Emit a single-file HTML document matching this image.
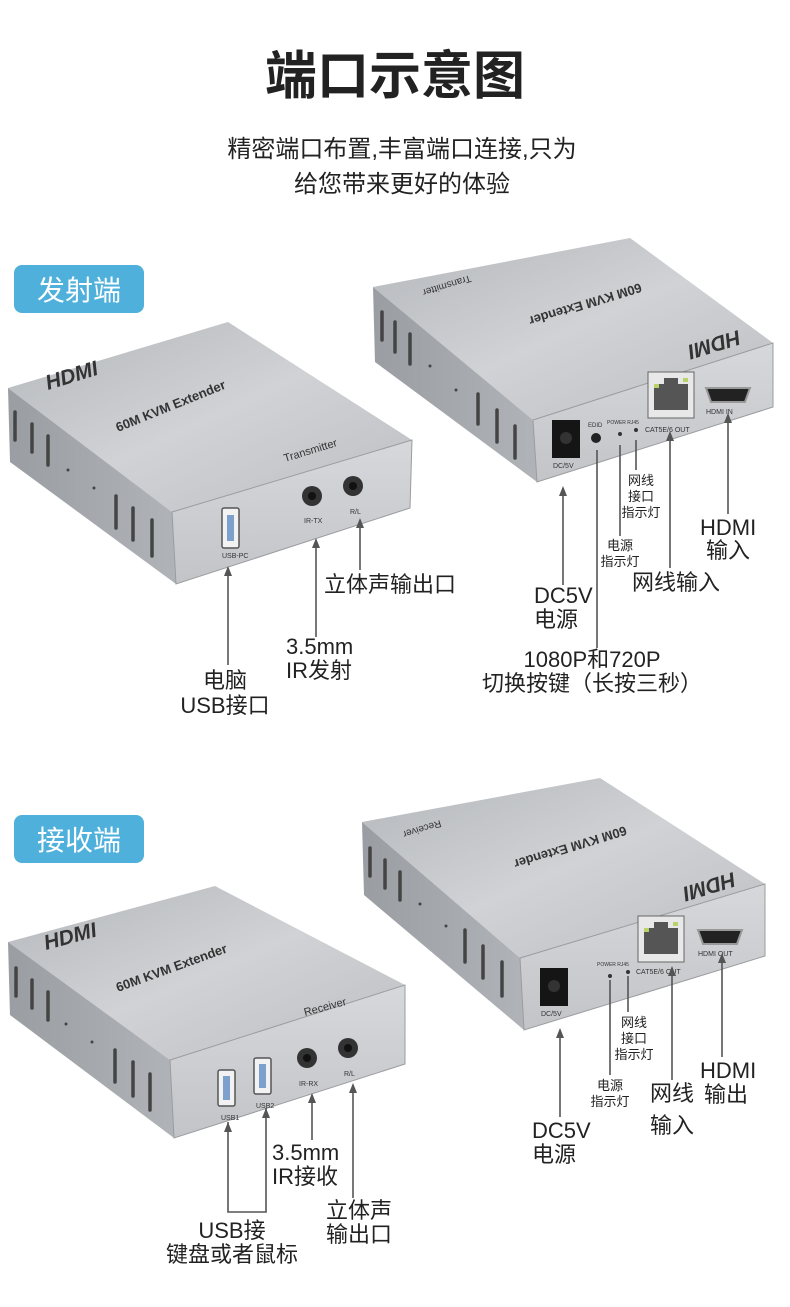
<!DOCTYPE html>
<html><head><meta charset="utf-8"><style>
html,body{margin:0;padding:0;background:#fff;}
svg{display:block;}
.t{font-family:"Liberation Sans","Noto Sans CJK SC",sans-serif;fill:#222;}
.ln{stroke:#555;stroke-width:1.6;fill:none;}
.ar{fill:#555;}
.sl{stroke:#444;stroke-width:3.5;stroke-linecap:round;}
.dt{font-family:"Liberation Sans",sans-serif;fill:#333;}
</style></head><body>
<svg width="790" height="1307" viewBox="0 0 790 1307" xmlns="http://www.w3.org/2000/svg">
<defs>
<linearGradient id="top" x1="0" y1="0" x2="1" y2="1"><stop offset="0" stop-color="#b4b7bb"/><stop offset="0.5" stop-color="#d0d2d5"/><stop offset="1" stop-color="#bcbec2"/></linearGradient>
<linearGradient id="front" x1="0" y1="0" x2="0" y2="1"><stop offset="0" stop-color="#d6d8db"/><stop offset="1" stop-color="#c2c4c8"/></linearGradient>
<linearGradient id="side" x1="0" y1="0" x2="1" y2="0"><stop offset="0" stop-color="#9a9da2"/><stop offset="1" stop-color="#b0b3b7"/></linearGradient>
</defs>
<rect width="790" height="1307" fill="#fff"/>

<text class="t" x="395" y="94" font-size="52" font-weight="700" text-anchor="middle">端口示意图</text>
<text class="t" x="402" y="157" font-size="24" text-anchor="middle">精密端口布置,丰富端口连接,只为</text>
<text class="t" x="402" y="192" font-size="24" text-anchor="middle">给您带来更好的体验</text>

<rect x="14" y="265" width="130" height="48" rx="8" fill="#4fb0dc"/>
<text x="79" y="300" font-size="28" fill="#fff" text-anchor="middle" font-family="Liberation Sans,Noto Sans CJK SC,sans-serif">发射端</text>
<rect x="14" y="815" width="130" height="48" rx="8" fill="#4fb0dc"/>
<text x="79" y="850" font-size="28" fill="#fff" text-anchor="middle" font-family="Liberation Sans,Noto Sans CJK SC,sans-serif">接收端</text>

<!-- Device 1 -->
<g>
<polygon points="8,388 228,322 412,440 172,512" fill="url(#top)"/>
<polygon points="8,388 172,512 176,584 10,462" fill="url(#side)"/>
<polygon points="172,512 412,440 410,508 176,584" fill="url(#front)" stroke="#9a9ca0" stroke-width="1"/>
<line class="sl" x1="15" y1="412" x2="15" y2="440"/><line class="sl" x1="32" y1="424" x2="32" y2="452"/><line class="sl" x1="48" y1="436" x2="48" y2="465"/>
<line class="sl" x1="116" y1="496" x2="116" y2="528"/><line class="sl" x1="133" y1="508" x2="133" y2="540"/><line class="sl" x1="152" y1="520" x2="152" y2="556"/>
<circle cx="68" cy="470" r="1.5" fill="#444"/><circle cx="94" cy="488" r="1.5" fill="#444"/>
<text class="dt" font-size="21" font-weight="700" font-style="italic" transform="translate(48,390) rotate(-17)" fill="#222">HDMI</text>
<text class="dt" font-size="13" font-weight="700" transform="translate(118,432) rotate(-22)">60M KVM Extender</text>
<text class="dt" font-size="11" transform="translate(285,462) rotate(-17)">Transmitter</text>
<rect x="222" y="508" width="17" height="40" rx="2" fill="#f2f2f2" stroke="#555" stroke-width="1.5"/>
<rect x="227" y="515" width="7" height="26" fill="#7da0cc"/>
<text class="dt" font-size="7" x="222" y="558">USB-PC</text>
<circle cx="312" cy="496" r="10" fill="#333"/><circle cx="312" cy="496" r="4" fill="#111"/>
<circle cx="353" cy="486" r="10" fill="#333"/><circle cx="353" cy="486" r="4" fill="#111"/>
<text class="dt" font-size="7" x="304" y="523">IR-TX</text><text class="dt" font-size="7" x="350" y="514">R/L</text>
</g>

<!-- Device 2 -->
<g>
<polygon points="373,287 630,238 773,343 533,420" fill="url(#top)"/>
<polygon points="373,287 533,420 537,482 375,362" fill="url(#side)"/>
<polygon points="533,420 773,343 773,407 537,482" fill="url(#front)" stroke="#9a9ca0" stroke-width="1"/>
<line class="sl" x1="382" y1="312" x2="382" y2="340"/><line class="sl" x1="395" y1="322" x2="395" y2="352"/><line class="sl" x1="410" y1="334" x2="410" y2="364"/>
<line class="sl" x1="478" y1="394" x2="478" y2="424"/><line class="sl" x1="497" y1="410" x2="497" y2="442"/><line class="sl" x1="515" y1="426" x2="515" y2="458"/>
<circle cx="430" cy="366" r="1.5" fill="#444"/><circle cx="456" cy="390" r="1.5" fill="#444"/>
<text class="dt" font-size="13" font-weight="700" transform="translate(640,283) rotate(163)">60M KVM Extender</text>
<text class="dt" font-size="10" transform="translate(470,275) rotate(163)">Transmitter</text>
<text class="dt" font-size="21" font-weight="700" font-style="italic" transform="translate(738,330) rotate(163)" fill="#222">HDMI</text>
<rect x="552" y="420" width="28" height="38" fill="#151515"/><circle cx="566" cy="438" r="6" fill="#333"/>
<text class="dt" font-size="7" x="553" y="468">DC/5V</text>
<circle cx="596" cy="438" r="5" fill="#222"/><text class="dt" font-size="6" x="588" y="427">EDID</text>
<circle cx="620" cy="434" r="2" fill="#333"/><circle cx="636" cy="430" r="2" fill="#333"/>
<text class="dt" font-size="5" x="607" y="424">POWER RJ45</text>
<rect x="648" y="372" width="46" height="46" fill="#e8e8e8" stroke="#666"/>
<rect x="654" y="384" width="34" height="26" fill="#555"/><rect x="664" y="378" width="14" height="8" fill="#555"/>
<rect x="654" y="384" width="5" height="4" fill="#b9d36a"/><rect x="683" y="378" width="5" height="4" fill="#b9d36a"/>
<text class="dt" font-size="7" x="645" y="432">CAT5E/6 OUT</text>
<path d="M706,388 h44 l-5,14 h-34 z" fill="#222" stroke="#999" stroke-width="2"/>
<text class="dt" font-size="7" x="706" y="414">HDMI IN</text>
</g>

<!-- Device 3 -->
<g>
<polygon points="8,942 215,886 405,985 170,1060" fill="url(#top)"/>
<polygon points="8,942 170,1060 174,1138 10,1015" fill="url(#side)"/>
<polygon points="170,1060 405,985 405,1064 174,1138" fill="url(#front)" stroke="#9a9ca0" stroke-width="1"/>
<line class="sl" x1="16" y1="968" x2="16" y2="996"/><line class="sl" x1="32" y1="980" x2="32" y2="1008"/><line class="sl" x1="48" y1="992" x2="48" y2="1020"/>
<line class="sl" x1="115" y1="1050" x2="115" y2="1082"/><line class="sl" x1="133" y1="1062" x2="133" y2="1096"/><line class="sl" x1="150" y1="1074" x2="150" y2="1110"/>
<circle cx="66" cy="1024" r="1.5" fill="#444"/><circle cx="92" cy="1042" r="1.5" fill="#444"/>
<text class="dt" font-size="21" font-weight="700" font-style="italic" transform="translate(46,950) rotate(-15)" fill="#222">HDMI</text>
<text class="dt" font-size="13" font-weight="700" transform="translate(118,992) rotate(-20)">60M KVM Extender</text>
<text class="dt" font-size="11" transform="translate(305,1016) rotate(-15)">Receiver</text>
<rect x="218" y="1070" width="17" height="36" rx="2" fill="#f2f2f2" stroke="#555" stroke-width="1.5"/><rect x="223" y="1076" width="7" height="24" fill="#7da0cc"/>
<rect x="254" y="1058" width="17" height="36" rx="2" fill="#f2f2f2" stroke="#555" stroke-width="1.5"/><rect x="259" y="1064" width="7" height="24" fill="#7da0cc"/>
<text class="dt" font-size="7" x="221" y="1120">USB1</text><text class="dt" font-size="7" x="256" y="1108">USB2</text>
<circle cx="307" cy="1058" r="10" fill="#333"/><circle cx="307" cy="1058" r="4" fill="#111"/>
<circle cx="348" cy="1048" r="10" fill="#333"/><circle cx="348" cy="1048" r="4" fill="#111"/>
<text class="dt" font-size="7" x="299" y="1086">IR-RX</text><text class="dt" font-size="7" x="344" y="1076">R/L</text>
</g>

<!-- Device 4 -->
<g>
<polygon points="362,822 600,778 765,884 520,958" fill="url(#top)"/>
<polygon points="362,822 520,958 524,1030 364,895" fill="url(#side)"/>
<polygon points="520,958 765,884 765,956 524,1030" fill="url(#front)" stroke="#9a9ca0" stroke-width="1"/>
<line class="sl" x1="370" y1="848" x2="370" y2="876"/><line class="sl" x1="385" y1="860" x2="385" y2="888"/><line class="sl" x1="400" y1="872" x2="400" y2="900"/>
<line class="sl" x1="465" y1="930" x2="465" y2="962"/><line class="sl" x1="483" y1="946" x2="483" y2="978"/><line class="sl" x1="502" y1="962" x2="502" y2="996"/>
<circle cx="420" cy="904" r="1.5" fill="#444"/><circle cx="446" cy="926" r="1.5" fill="#444"/>
<text class="dt" font-size="13" font-weight="700" transform="translate(625,826) rotate(163)">60M KVM Extender</text>
<text class="dt" font-size="10" transform="translate(440,820) rotate(163)">Receiver</text>
<text class="dt" font-size="21" font-weight="700" font-style="italic" transform="translate(733,872) rotate(163)" fill="#222">HDMI</text>
<rect x="540" y="968" width="28" height="38" fill="#151515"/><circle cx="554" cy="986" r="6" fill="#333"/>
<text class="dt" font-size="7" x="541" y="1016">DC/5V</text>
<circle cx="610" cy="976" r="2" fill="#333"/><circle cx="628" cy="972" r="2" fill="#333"/>
<text class="dt" font-size="5" x="597" y="966">POWER RJ45</text>
<rect x="638" y="916" width="46" height="46" fill="#e8e8e8" stroke="#666"/>
<rect x="644" y="928" width="34" height="26" fill="#555"/><rect x="654" y="922" width="14" height="8" fill="#555"/>
<rect x="644" y="928" width="5" height="4" fill="#b9d36a"/><rect x="673" y="922" width="5" height="4" fill="#b9d36a"/>
<text class="dt" font-size="7" x="636" y="974">CAT5E/6 OUT</text>
<path d="M698,930 h44 l-5,14 h-34 z" fill="#222" stroke="#999" stroke-width="2"/>
<text class="dt" font-size="7" x="698" y="956">HDMI OUT</text>
</g>

<g>
<line class="ln" x1="228" y1="568" x2="228" y2="665"/><polygon class="ar" points="224,576 228,566 232,576"/>
<line class="ln" x1="316" y1="540" x2="316" y2="637"/><polygon class="ar" points="312,548 316,538 320,548"/>
<line class="ln" x1="360" y1="520" x2="360" y2="570"/><polygon class="ar" points="356,528 360,518 364,528"/>
<line class="ln" x1="563" y1="488" x2="563" y2="585"/><polygon class="ar" points="559,496 563,486 567,496"/>
<line class="ln" x1="597" y1="450" x2="597" y2="648"/>
<line class="ln" x1="620" y1="445" x2="620" y2="536"/>
<line class="ln" x1="636" y1="440" x2="636" y2="470"/>
<line class="ln" x1="670" y1="433" x2="670" y2="568"/><polygon class="ar" points="666,441 670,431 674,441"/>
<line class="ln" x1="728" y1="415" x2="728" y2="514"/><polygon class="ar" points="724,423 728,413 732,423"/>
</g>
<g class="t" font-size="22">
<text x="225" y="688" text-anchor="middle">电脑</text>
<text x="225" y="713" text-anchor="middle">USB接口</text>
<text x="286" y="654">3.5mm</text>
<text x="286" y="678">IR发射</text>
<text x="324" y="592">立体声输出口</text>
<text x="534" y="603">DC5V</text>
<text x="534" y="627">电源</text>
<text x="592" y="667" text-anchor="middle">1080P和720P</text>
<text x="592" y="691" text-anchor="middle">切换按键（长按三秒）</text>
<text x="632" y="590">网线输入</text>
<text x="700" y="535">HDMI</text>
<text x="706" y="558">输入</text>
</g>
<g class="t" font-size="13">
<text x="620" y="550" text-anchor="middle">电源</text><text x="620" y="566" text-anchor="middle">指示灯</text>
<text x="641" y="485" text-anchor="middle">网线</text><text x="641" y="501" text-anchor="middle">接口</text><text x="641" y="517" text-anchor="middle">指示灯</text>
</g>

<g>
<polyline class="ln" points="228,1122 228,1212 266,1212 266,1108"/>
<polygon class="ar" points="224,1132 228,1122 232,1132"/><polygon class="ar" points="262,1118 266,1108 270,1118"/>
<line class="ln" x1="312" y1="1095" x2="312" y2="1140"/><polygon class="ar" points="308,1103 312,1093 316,1103"/>
<line class="ln" x1="353" y1="1085" x2="353" y2="1198"/><polygon class="ar" points="349,1093 353,1083 357,1093"/>
<line class="ln" x1="560" y1="1030" x2="560" y2="1117"/><polygon class="ar" points="556,1038 560,1028 564,1038"/>
<line class="ln" x1="610" y1="980" x2="610" y2="1075"/>
<line class="ln" x1="628" y1="976" x2="628" y2="1012"/>
<line class="ln" x1="672" y1="968" x2="672" y2="1080"/><polygon class="ar" points="668,976 672,966 676,976"/>
<line class="ln" x1="722" y1="955" x2="722" y2="1057"/><polygon class="ar" points="718,963 722,953 726,963"/>
</g>
<g class="t" font-size="22">
<text x="232" y="1238" text-anchor="middle">USB接</text>
<text x="232" y="1262" text-anchor="middle">键盘或者鼠标</text>
<text x="272" y="1160">3.5mm</text>
<text x="272" y="1184">IR接收</text>
<text x="326" y="1218">立体声</text>
<text x="326" y="1242">输出口</text>
<text x="532" y="1138">DC5V</text>
<text x="532" y="1162">电源</text>
<text x="650" y="1101">网线</text>
<text x="650" y="1133">输入</text>
<text x="700" y="1078">HDMI</text>
<text x="704" y="1102">输出</text>
</g>
<g class="t" font-size="13">
<text x="610" y="1090" text-anchor="middle">电源</text><text x="610" y="1106" text-anchor="middle">指示灯</text>
<text x="634" y="1027" text-anchor="middle">网线</text><text x="634" y="1043" text-anchor="middle">接口</text><text x="634" y="1059" text-anchor="middle">指示灯</text>
</g>
</svg>
</body></html>
